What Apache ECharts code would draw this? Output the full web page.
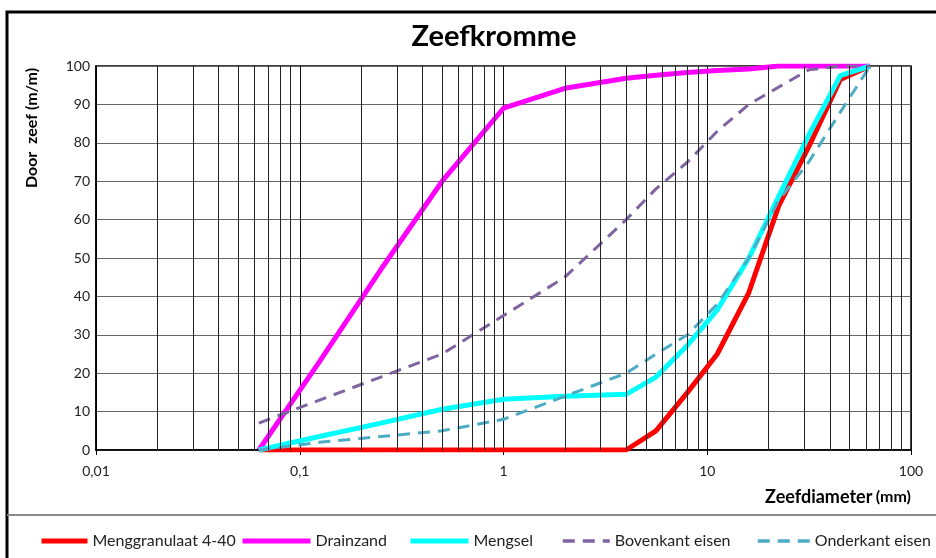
<!DOCTYPE html>
<html>
<head>
<meta charset="utf-8">
<script src="https://cdn.jsdelivr.net/npm/echarts@6/dist/echarts.min.js"></script>
<style>
    html, body { margin: 0; padding: 0; background: #fff; }
    #chart { width: 936px; height: 558px; }
</style>
</head>
<body>
<div id="chart"></div>
<script>
    // zeefmaten (mm)
    var zeefmaten = [0.063, 0.125, 0.25, 0.5, 1, 2, 4, 5.6, 8, 11.2, 16, 22.4, 31.5, 45, 63];

    // doorval (%)
    var menggranulaat = [0, 0, 0, 0, 0, 0, 0, 5, 15, 25, 41, 63.5, 79, 96.5, 100];
    var drainzand = [0, 23, 47, 70, 89, 94.2, 96.8, 97.6, 98.3, 98.8, 99.2, 100, 100, 100, 100];
    var mengsel = [0, 3.5, 7, 10.6, 13.2, 14, 14.5, 19, 27.3, 36.5, 50, 66, 82, 97.5, 100];
    var bovenkant = [7, 13, 19, 25, 35, 45, 60, 68, 75, 83, 90, 94.5, 99, 100, 100];
    var onderkant = [0, 2, 3.5, 5, 8, 14, 20, 25, 30, 38, 50, 65, 75, 88, 100];

    var namen = ['Menggranulaat 4-40', 'Drainzand', 'Mengsel', 'Bovenkant eisen', 'Onderkant eisen'];

    var font = 'Lato, "Open Sans", sans-serif';

    function koppel(xs, ys) {
        var out = [];
        for (var i = 0; i < xs.length; i++) {
            out.push([xs[i], ys[i]]);
        }
        return out;
    }

    // tussenliggende verticale rasterlijnen (2..9 per decade)
    var rasterX = [];
    for (var k = -2; k <= 1; k++) {
        for (var m = 2; m <= 9; m++) {
            rasterX.push({ xAxis: +(m * Math.pow(10, k)).toPrecision(3) });
        }
    }

    var chart = echarts.init(document.getElementById('chart'));

    function legenda(naam, left, breedte, dikte) {
        return {
            data: [naam],
            left: left,
            top: 533,
            padding: 0,
            itemWidth: breedte,
            itemHeight: 14,
            itemGap: 0,
            itemStyle: { opacity: 0, borderWidth: 0 },
            lineStyle: { width: dikte },
            textStyle: { fontFamily: font, fontSize: 16, color: '#222' }
        };
    }

    var option = {
        backgroundColor: '#fff',
        animation: false,
        title: {
            text: 'Zeefkromme',
            left: 489,
            textAlign: 'center',
            top: 17,
            textStyle: { fontFamily: font, fontSize: 29, fontWeight: 'bold', color: '#000' }
        },
        legend: [
            legenda(namen[0], 39, 46, 5),
            legenda(namen[1], 240, 68, 5),
            legenda(namen[2], 408, 58, 5),
            legenda(namen[3], 561, 47, 3.5),
            legenda(namen[4], 756, 52, 3.5)
        ],
        grid: {
            left: 96,
            right: 25,
            top: 66,
            bottom: 108,
            show: true,
            borderColor: '#000',
            borderWidth: 1.5,
            backgroundColor: 'transparent'
        },
        xAxis: {
            type: 'log',
            logBase: 10,
            min: 0.01,
            max: 100,
            axisLine: { lineStyle: { color: '#000', width: 1.5 } },
            axisTick: { show: true, length: 5, lineStyle: { color: '#000' } },
            axisLabel: {
                fontFamily: font,
                fontSize: 14,
                color: '#222',
                margin: 14,
                formatter: function (v) { return String(v).replace('.', ','); }
            },
            splitLine: { show: true, lineStyle: { color: '#111', width: 1 } }
        },
        yAxis: {
            type: 'value',
            min: 0,
            max: 100,
            interval: 10,
            axisLine: { show: true, lineStyle: { color: '#000', width: 1.5 } },
            axisTick: { show: false },
            axisLabel: { fontFamily: font, fontSize: 14, color: '#222', margin: 6 },
            splitLine: { show: true, lineStyle: { color: '#666', width: 1 } }
        },
        graphic: [
            {
                type: 'rect',
                shape: { x: 7, y: 12, width: 1000, height: 1000 },
                style: { fill: 'none', stroke: '#000', lineWidth: 3 },
                silent: true
            },
            {
                type: 'line',
                shape: { x1: 7, y1: 515, x2: 936, y2: 515 },
                style: { stroke: '#8a8a8a', lineWidth: 2 },
                silent: true
            },
            {
                type: 'text',
                x: 32,
                y: 128,
                rotation: Math.PI / 2,
                style: {
                    text: 'Door  zeef (m/m)',
                    fontFamily: font,
                    fontSize: 16,
                    fontWeight: 'bold',
                    fill: '#000',
                    align: 'center',
                    verticalAlign: 'middle'
                },
                silent: true
            },
            {
                type: 'text',
                x: 911,
                y: 497,
                style: {
                    text: '{a|Zeefdiameter} {b|(mm)}',
                    rich: {
                        a: { fontFamily: font, fontSize: 18, fontWeight: 'bold', fill: '#000' },
                        b: { fontFamily: font, fontSize: 16, fontWeight: 'bold', fill: '#000' }
                    },
                    align: 'right',
                    verticalAlign: 'middle'
                },
                silent: true
            }
        ],
        series: [
            {
                name: '',
                type: 'line',
                data: [],
                z: 1,
                silent: true,
                markLine: {
                    silent: true,
                    symbol: ['none', 'none'],
                    label: { show: false },
                    lineStyle: { color: '#222', width: 1, type: 'solid' },
                    emphasis: { disabled: true },
                    animation: false,
                    data: rasterX
                }
            },
            {
                name: namen[0],
                type: 'line',
                symbol: 'none',
                color: '#ff0000',
                lineStyle: { width: 5, color: '#ff0000' },
                data: koppel(zeefmaten, menggranulaat)
            },
            {
                name: namen[1],
                type: 'line',
                symbol: 'none',
                color: '#ff00ff',
                lineStyle: { width: 5, color: '#ff00ff' },
                data: koppel(zeefmaten, drainzand)
            },
            {
                name: namen[2],
                type: 'line',
                symbol: 'none',
                color: '#00ffff',
                lineStyle: { width: 5, color: '#00ffff' },
                data: koppel(zeefmaten, mengsel)
            },
            {
                name: namen[3],
                type: 'line',
                symbol: 'none',
                color: '#8064a2',
                lineStyle: { width: 3, color: '#8064a2', type: [12, 8] },
                data: koppel(zeefmaten, bovenkant)
            },
            {
                name: namen[4],
                type: 'line',
                symbol: 'none',
                color: '#4bacc6',
                lineStyle: { width: 3, color: '#4bacc6', type: [12, 8] },
                data: koppel(zeefmaten, onderkant)
            }
        ]
    };

    chart.setOption(option);
</script>
</body>
</html>
